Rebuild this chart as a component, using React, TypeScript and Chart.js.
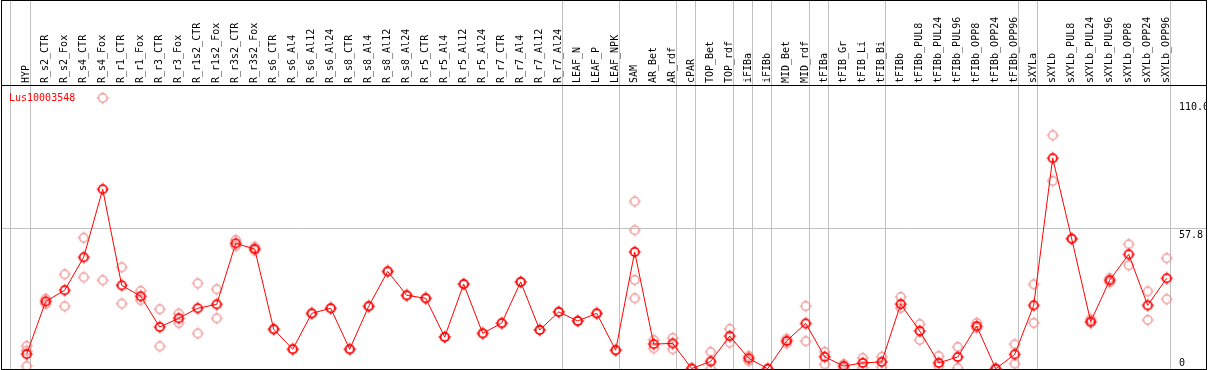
import React, { useEffect, useRef } from "react";
import { Chart, registerables } from "chart.js";

Chart.register(...registerables);

const geneName = "Lus10003548";

const categories = [
  "HYP", "R_s2_CTR", "R_s2_Fox", "R_s4_CTR", "R_s4_Fox", "R_r1_CTR", "R_r1_Fox", "R_r3_CTR", "R_r3_Fox",
  "R_r1s2_CTR", "R_r1s2_Fox", "R_r3s2_CTR", "R_r3s2_Fox", "R_s6_CTR", "R_s6_Al4", "R_s6_Al12", "R_s6_Al24",
  "R_s8_CTR", "R_s8_Al4", "R_s8_Al12", "R_s8_Al24", "R_r5_CTR", "R_r5_Al4", "R_r5_Al12", "R_r5_Al24",
  "R_r7_CTR", "R_r7_Al4", "R_r7_Al12", "R_r7_Al24", "LEAF_N", "LEAF_P", "LEAF_NPK", "SAM", "AR_Bet", "AR_rdf",
  "cPAR", "TOP_Bet", "TOP_rdf", "iFIBa", "iFIBb", "MID_Bet", "MID_rdf", "tFIBa", "tFIB_Gr", "tFIB_Li", "tFIB_Bi",
  "tFIBb", "tFIBb_PUL8", "tFIBb_PUL24", "tFIBb_PUL96", "tFIBb_OPP8", "tFIBb_OPP24", "tFIBb_OPP96",
  "sXYLa", "sXYLb", "sXYLb_PUL8", "sXYLb_PUL24", "sXYLb_PUL96", "sXYLb_OPP8", "sXYLb_OPP24", "sXYLb_OPP96",
];

const meanValues = [
  6.1, 27.7, 32.3, 45.8, 73.7, 34.3, 29.8, 17.2, 20.8,
  24.9, 26.5, 51.5, 49.2, 16.3, 8.1, 22.8, 24.9,
  8.1, 25.7, 40.0, 30.2, 29.0, 13.1, 34.8, 14.6,
  18.8, 35.7, 16.0, 23.4, 19.7, 22.8, 7.7, 48.0, 10.2, 10.5,
  0.2, 3.1, 13.5, 4.4, 0.1, 11.5, 18.7, 5.0, 1.2, 2.5, 2.9,
  26.6, 15.6, 2.5, 4.9, 17.6, 0.1, 6.0,
  26.1, 86.4, 53.4, 19.4, 36.4, 47.0, 26.1, 37.2,
];

const replicateValues = [
  [9.4, 7.5, 1.2], [28.8, 26.6], [38.8, 25.7], [53.8, 37.6], [111.1, 36.4], [41.7, 26.8], [32.0, 28.2], [24.5, 9.3], [22.7, 18.9],
  [35.1, 14.6], [32.7, 20.8], [52.9, 50.4], [50.1, 48.5], [16.3], [8.1], [22.8], [24.9],
  [8.1], [25.7], [40.0], [30.2], [29.0], [13.1], [34.8], [14.6],
  [18.8], [35.7], [16.0], [23.4], [19.7], [22.8], [7.7], [68.7, 56.9, 36.5, 29.0], [11.9, 8.5], [12.7, 8.1],
  [0.2], [7.0, 0.0], [16.4, 10.8], [5.3, 3.3], [0.1], [12.4, 10.5], [25.8, 11.4], [7.0, 1.9], [2.0, 0.4], [4.5, 0.5], [5.0, 0.8],
  [29.5, 25.0], [18.4, 11.9], [5.3, 1.2], [9.0, 0.4], [18.9, 16.8], [0.3, 0.0], [10.1, 2.2],
  [34.7, 18.9], [95.8, 77.1], [53.4], [20.4, 19.0], [37.2, 35.5], [51.1, 42.5], [31.8, 20.1], [45.4, 28.6],
];

// index of the last category in each group (group separators drawn after them)
const groupEnds = [0, 28, 31, 34, 35, 37, 38, 39, 41, 42, 45, 52, 53, 60];

const yTickValues = [0, 57.8, 110];
const yTickLabels = ["0", "57.8", "110.0"];

const FONT = "'DejaVu Sans Mono', 'Liberation Mono', monospace";

function makeMarker(color: string, lw: number): HTMLCanvasElement {
  const c = document.createElement("canvas");
  c.width = 14;
  c.height = 14;
  const g = c.getContext("2d")!;
  g.strokeStyle = color;
  g.lineWidth = lw;
  g.beginPath();
  g.arc(7, 7, 4.2, 0, Math.PI * 2);
  g.stroke();
  g.lineWidth = 1.2;
  g.beginPath();
  g.moveTo(7, 0.8);
  g.lineTo(7, 2.6);
  g.moveTo(7, 11.4);
  g.lineTo(7, 13.2);
  g.moveTo(0.8, 7);
  g.lineTo(2.6, 7);
  g.moveTo(11.4, 7);
  g.lineTo(13.2, 7);
  g.stroke();
  return c;
}

export default function App() {
  const ref = useRef<HTMLCanvasElement | null>(null);

  useEffect(() => {
    const canvas = ref.current;
    if (!canvas) return;
    const mainMarker = makeMarker("#ff0000", 1.8);
    const repMarker = makeMarker("rgba(236,140,140,0.85)", 1.5);

    const decor = {
      id: "decor",
      beforeDatasetsDraw(chart: any) {
        const { ctx, scales } = chart;
        const x = scales.x;
        ctx.save();
        ctx.strokeStyle = "#c0c0c0";
        ctx.lineWidth = 1;
        const bounds = [-1 + 0.16, ...groupEnds.map((e) => e + 0.21)];
        ctx.beginPath();
        bounds.forEach((b) => {
          const px = Math.floor(x.getPixelForValue(b)) + 0.5;
          ctx.moveTo(px, 0);
          ctx.lineTo(px, chart.height);
        });
        ctx.stroke();
        ctx.restore();
      },
      afterDraw(chart: any) {
        const { ctx, chartArea, scales } = chart;
        const y = scales.y;
        ctx.save();
        ctx.font = `10px ${FONT}`;
        ctx.fillStyle = "#000";
        ctx.textAlign = "left";
        ctx.textBaseline = "alphabetic";
        yTickValues.forEach((v, i) => {
          const py = y.getPixelForValue(v);
          const by = v === 0 ? py - 3 : py + 9.5;
          ctx.fillText(yTickLabels[i], 1179, by);
        });

        ctx.fillStyle = "#ff0000";
        ctx.fillText(geneName, 9, 101);

        ctx.fillStyle = "#fff";
        ctx.fillRect(1207, 0, 2, chart.height);
        ctx.strokeStyle = "#000";
        ctx.lineWidth = 1;
        ctx.strokeRect(1.5, 0.5, 1205, chartArea.bottom);
        ctx.beginPath();
        ctx.moveTo(1, Math.floor(chartArea.top) + 0.5);
        ctx.lineTo(1207, Math.floor(chartArea.top) + 0.5);
        ctx.stroke();
        ctx.restore();
      },
    };

    const chart = new Chart(canvas, {
      type: "scatter",
      data: {
        datasets: [
          {
            data: meanValues.map((v, i) => ({ x: i, y: v })),
            showLine: true,
            borderColor: "#ff0000",
            borderWidth: 1,
            pointStyle: mainMarker as any,
            pointRadius: 5,
            tension: 0,
            order: 0,
          } as any,
          {
            data: replicateValues.flatMap((arr, i) => arr.map((v) => ({ x: i, y: v }))),
            showLine: false,
            pointStyle: repMarker as any,
            pointRadius: 5,
            order: 1,
          } as any,
        ],
      },
      options: {
        animation: false,
        responsive: false,
        layout: { autoPadding: false, padding: { left: 1, right: 1, top: 0, bottom: 1 } },
        plugins: { legend: { display: false }, tooltip: { enabled: false }, title: { display: false } },
        scales: {
          x: {
            type: "linear",
            position: "top",
            min: -1.3526,
            max: 62.174,
            afterBuildTicks: (scale: any) => {
              scale.ticks = categories.map((_, i) => ({ value: i }));
            },
            afterFit: (scale: any) => {
              scale.height = 85;
              scale.paddingLeft = 0;
              scale.paddingRight = 0;
            },
            ticks: {
              autoSkip: false,
              minRotation: 90,
              maxRotation: 90,
              padding: 2,
              labelOffset: 12,
              color: "#000",
              font: { family: FONT, size: 10 },
              callback: (value: any) => categories[Math.round(Number(value))] ?? "",
            },
            grid: { display: false, drawTicks: false },
            border: { display: false },
          },
          y: {
            type: "linear",
            position: "left",
            min: 0,
            max: 116.42,
            afterBuildTicks: (scale: any) => {
              scale.ticks = yTickValues.map((v) => ({ value: v }));
            },
            afterFit: (scale: any) => {
              scale.width = 0;
              scale.paddingTop = 0;
              scale.paddingBottom = 0;
            },
            ticks: { display: false },
            grid: {
              drawTicks: false,
              lineWidth: 1,
              color: (c: any) => (c.tick && c.tick.value === 57.8 ? "#c0c0c0" : "rgba(0,0,0,0)"),
            },
            border: { display: false },
          },
        },
      },
      plugins: [decor],
    });

    return () => chart.destroy();
  }, []);

  return (
    <div style={{ position: "absolute", left: 0, top: 0, width: 1209, height: 370 }}>
      <canvas ref={ref} width={1209} height={370} style={{ display: "block" }} />
    </div>
  );
}
